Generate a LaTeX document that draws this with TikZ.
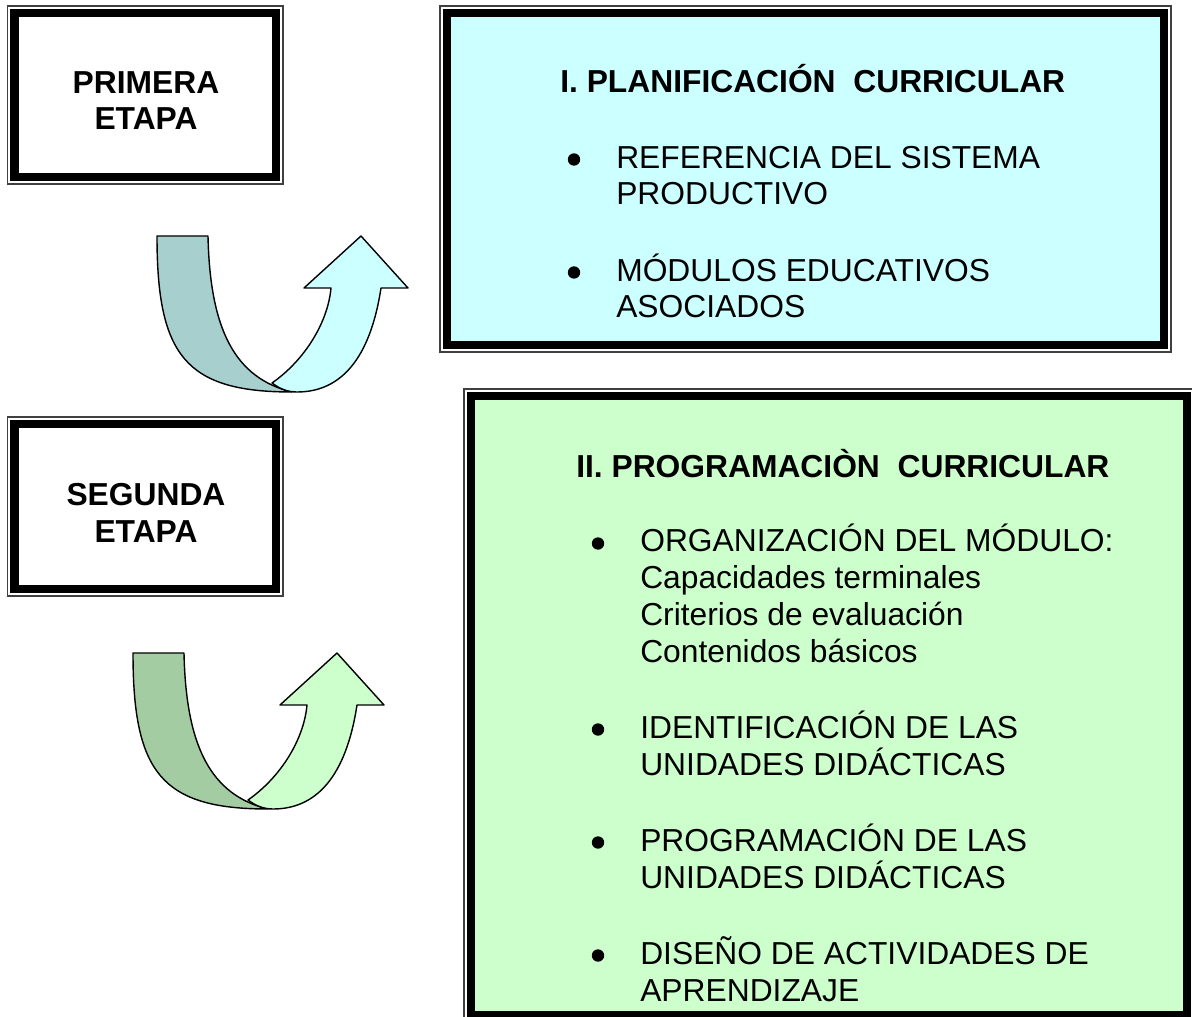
\documentclass[tikz,border=0pt]{standalone}
\usepackage{fontspec}
\setmainfont{Liberation Sans}
\usetikzlibrary{calc}
\definecolor{celeste}{HTML}{CCFFFF}
\definecolor{verdeclaro}{HTML}{CCFFCC}
\definecolor{celesteosc}{RGB}{166,207,206}
\definecolor{verdeosc}{RGB}{163,204,163}
\newcommand\tam{\fontsize{22.6pt}{26.2pt}\selectfont}
\tikzset{
	marco/.style={
			draw=black!75, line width=1.1pt, fill=white, inner sep=0pt,
			path picture={
					\draw[draw=black, line width=6pt, fill=#1]
					([shift={(5.1pt,5.1pt)}]path picture bounding box.south west) rectangle
					([shift={(-5.1pt,-5.1pt)}]path picture bounding box.north east);}
		},
	marco/.default=white,
	texto/.style={anchor=base west, inner sep=0pt, align=left, font=\tam},
	etapa/.style={anchor=base, inner sep=0pt, align=center, font=\tam\bfseries},
	punto/.style={circle, fill=black, inner sep=0pt, minimum size=0.31cm},
	banda/.style={draw=black, line width=1pt, line join=round}
}
% flecha curva: #1 color de atras, #2 color de delante
\newcommand\flecha[2]{
	\filldraw[banda, fill=#1] (157,236) -- (208,236)
	.. controls (210,330) and (235,378) .. (292,392)
	.. controls (185,392) and (157,355) .. (157,236) -- cycle;
	\filldraw[banda, fill=#2] (272,383)
	.. controls (305,360) and (328,322) .. (331,288)
	-- (304,288) -- (361,236) -- (408,288) -- (381,288)
	.. controls (370,360) and (340,392) .. (297,392)
	.. controls (288,392) and (280,389) .. (272,383) -- cycle;
}

\begin{document}
\begin{tikzpicture}[x=0.025cm, y=-0.025cm]
        \useasboundingbox (0,0) rectangle (1192,1017);
        % cajas
        \node[marco, minimum width=275.5*0.025cm, minimum height=178*0.025cm] (primera) at (145.25, 95) {};
        \node[marco, minimum width=275.5*0.025cm, minimum height=179*0.025cm] (segunda) at (145.25, 506.5) {};
        \node[marco=celeste, minimum width=731*0.025cm, minimum height=346*0.025cm] (planif) at (805.5, 179) {};
        \node[marco=verdeclaro, minimum width=730*0.025cm, minimum height=633*0.025cm] (progr) at (829, 705.5) {};
        % etapas (base = ultima linea)
        \node[etapa] (primera_txt) at (146, 130) {PRIMERA\\ETAPA};
        \node[etapa] (segunda_txt) at (146, 542) {SEGUNDA\\ETAPA};
        % flechas
        \flecha{celesteosc}{celeste}
        \begin{scope}[shift={(-24, 417)}]
            \flecha{verdeosc}{verdeclaro}
        \end{scope}
        % planificacion
        \node[texto, font=\tam\bfseries] (planif_tit) at (560, 93) {I. PLANIFICACIÓN\ \ CURRICULAR};
        \node[punto] (planif_p1) at (574, 159.5) {};
        \node[texto] (planif_1) at (616, 205) {REFERENCIA DEL SISTEMA\\PRODUCTIVO};
        \node[punto] (planif_p2) at (574, 272.5) {};
        \node[texto] (planif_2) at (616, 318) {MÓDULOS EDUCATIVOS\\ASOCIADOS};
        % programacion
        \node[texto, font=\tam\bfseries] (progr_tit) at (576, 478) {II. PROGRAMACIÒN\ \ CURRICULAR};
        \node[punto] (progr_p1) at (598, 543.5) {};
        \node[texto] (progr_1) at (640, 662) {ORGANIZACIÓN DEL MÓDULO:\\Capacidades terminales\\Criterios de evaluación\\Contenidos básicos};
        \node[punto] (progr_p2) at (598, 729.5) {};
        \node[texto] (progr_2) at (640, 775) {IDENTIFICACIÓN DE LAS\\UNIDADES DIDÁCTICAS};
        \node[punto] (progr_p3) at (598, 842.5) {};
        \node[texto] (progr_3) at (640, 888) {PROGRAMACIÓN DE LAS\\UNIDADES DIDÁCTICAS};
        \node[punto] (progr_p4) at (598, 955.5) {};
        \node[texto] (progr_4) at (640, 1001) {DISEÑO DE ACTIVIDADES DE\\APRENDIZAJE};
    \end{tikzpicture}
\end{document}
